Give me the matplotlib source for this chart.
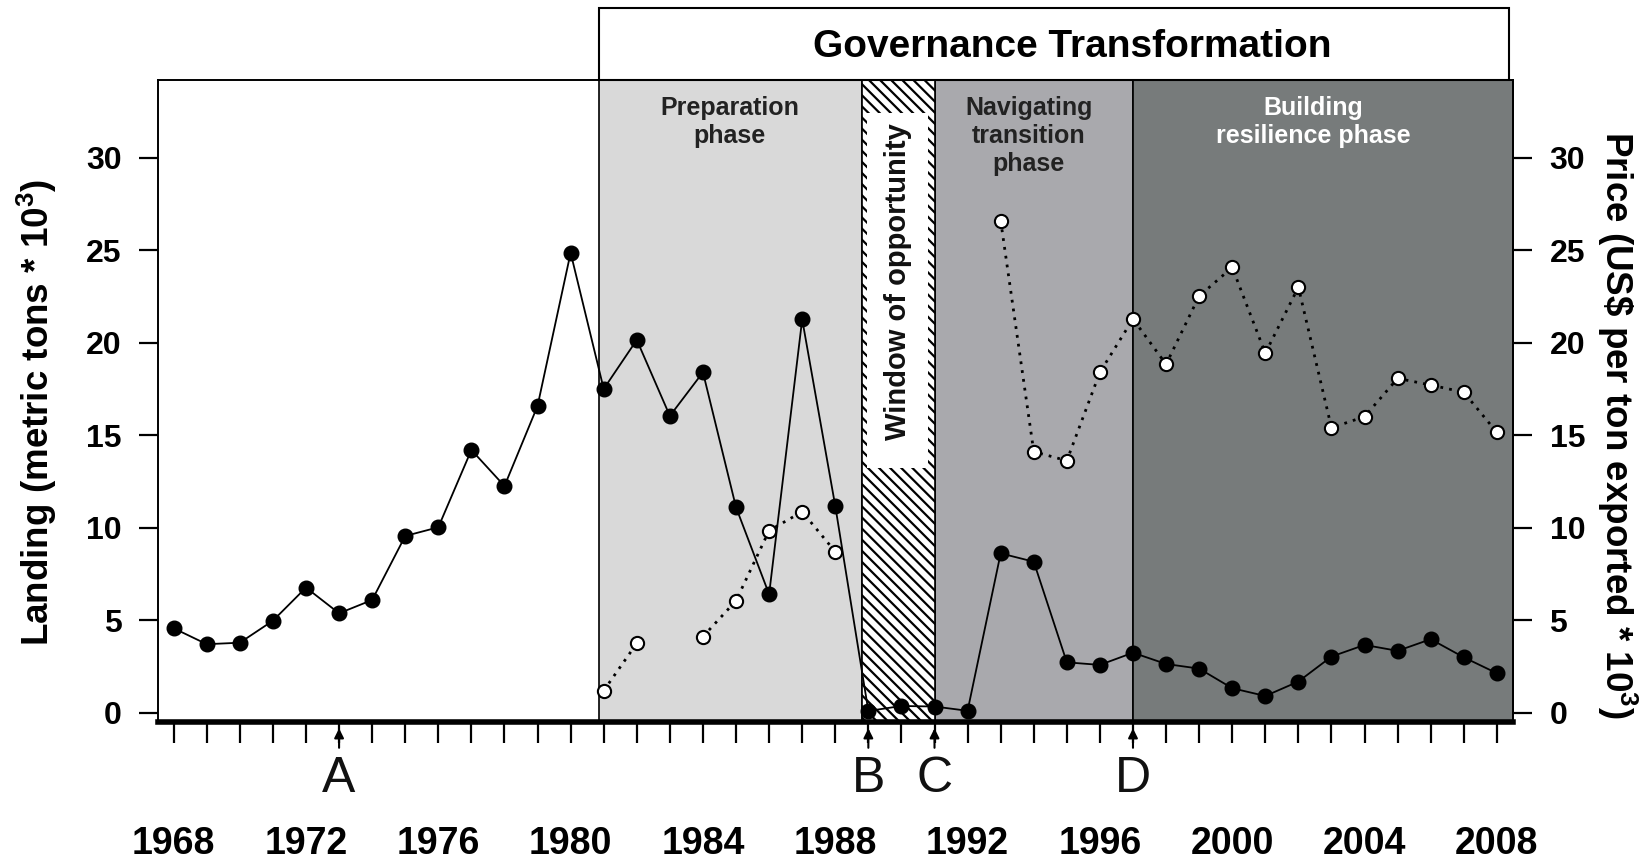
import matplotlib
matplotlib.use('Agg')
import matplotlib.pyplot as plt
import numpy as np
from matplotlib.patches import Rectangle
import matplotlib.transforms as mtransforms

plt.rcParams['font.family'] = ['Liberation Sans', 'DejaVu Sans']
plt.rcParams['font.weight'] = 'bold'
plt.rcParams['axes.labelweight'] = 'bold'
plt.rcParams['mathtext.default'] = 'regular'
plt.rcParams['hatch.linewidth'] = 1.6

# ---------------- data ----------------
years = list(range(1968, 2009))
landing = [4.56, 3.70, 3.78, 4.97, 6.76, 5.37, 6.09, 9.55, 10.02, 14.2, 12.25,
           16.58, 24.86, 17.5, 20.15, 16.04, 18.4, 11.1, 6.4, 21.26, 11.17,
           0.09, 0.36, 0.33, 0.1, 8.61, 8.16, 2.72, 2.58, 3.24, 2.63, 2.38,
           1.32, 0.90, 1.68, 3.03, 3.66, 3.34, 3.97, 2.99, 2.13]
price_years = list(range(1981, 2009))
price = [1.19, 3.75, None, 4.11, 6.05, 9.84, 10.86, 8.70, None, None, None, None,
         26.6, 14.11, 13.62, 18.4, 21.28, 18.83, 22.52, 24.07, 19.43, 23.0,
         15.4, 16.0, 18.07, 17.71, 17.32, 15.15]

year_labels = ['1968', '1972', '1976', '1980', '1984', '1988', '1992', '1996', '2000', '2004', '2008']
y_ticks = [0, 5, 10, 15, 20, 25, 30]

phase_names = ['Preparation\nphase', 'Navigating\ntransition\nphase', 'Building\nresilience phase']
phase_start = [1980.85, 1991.0, 1997.0]
phase_end = [1988.8, 1997.0, 2008.5]
phase_colors = ['#d9d9d9', '#a9a9ad', '#777b7b']
phase_text_x = [1984.8, 1993.85, 2002.45]
phase_text_colors = ['#222222', '#222222', 'white']

window_start, window_end = 1988.8, 1991.0
events = ['A', 'B', 'C', 'D']
event_years = [1973, 1989, 1991, 1997]

XMIN, XMAX = 1967.52, 2008.5
YMIN, YMAX = -0.49, 34.2

# ---------------- figure ----------------
fig = plt.figure(figsize=(16.46, 8.59), dpi=100)
ax = fig.add_axes([157.8/1646, 1-721.7/859, (1513.4-157.8)/1646, (721.7-80)/859])
ax.set_xlim(XMIN, XMAX)
ax.set_ylim(YMIN, YMAX)

trans = mtransforms.blended_transform_factory(ax.transData, ax.transAxes)

# phase backgrounds
for s, e, c in zip(phase_start, phase_end, phase_colors):
    ax.add_patch(Rectangle((s, 0), e - s, 1, transform=trans, facecolor=c,
                           edgecolor='black', lw=1.2, zorder=0))
# hatched window of opportunity
ax.add_patch(Rectangle((window_start, 0), window_end - window_start, 1, transform=trans,
                       facecolor='white', edgecolor='black', hatch='\\\\\\', lw=1.2, zorder=0.5))
ax.add_patch(Rectangle((1988.97, 13.2), 1.83, 19.2, facecolor='white', edgecolor='none', zorder=0.6))
ax.text(1989.89, 23.3, 'Window of opportunity', rotation=90, ha='center', va='center',
        fontsize=21, color='#111111', zorder=0.7)

for name, x, tc in zip(phase_names, phase_text_x, phase_text_colors):
    ax.text(x, 33.35, name, ha='center', va='top', fontsize=18, color=tc,
            linespacing=1.22, zorder=0.7)

# landing series
ax.plot(years, landing, color='black', lw=1.3, marker='o', markersize=10.5,
        markerfacecolor='black', markeredgecolor='black', zorder=3)

# axes styling
for side in ['left', 'top', 'right']:
    ax.spines[side].set_linewidth(1.4)
ax.spines['bottom'].set_linewidth(4)
ax.set_xticks(years)
ax.set_xticklabels([str(y) if str(y) in year_labels else '' for y in years])
ax.tick_params(axis='x', length=15, width=1.6, pad=60, labelsize=27, direction='out')
ax.set_yticks(y_ticks)
ax.tick_params(axis='y', length=14, width=1.6, pad=12, labelsize=23)
ax.set_ylabel('Landing (metric tons * 10$^3$)', fontsize=26.5, fontweight='bold', va='center')
ax.yaxis.set_label_coords(-0.0891, 0.4826)

# price series on secondary axis
ax2 = ax.twinx()
ax2.set_ylim(YMIN, YMAX)
ax2.plot(price_years, np.array(price, dtype=float), color='black', lw=2.0,
         linestyle=(0, (1, 2.2)), marker='o', markersize=9.5,
         markerfacecolor='white', markeredgecolor='black', markeredgewidth=1.5, zorder=3)
for side in ['left', 'top', 'bottom']:
    ax2.spines[side].set_visible(False)
ax2.spines['right'].set_linewidth(1.4)
ax2.set_yticks(y_ticks)
ax2.tick_params(axis='y', length=14, width=1.6, pad=12, labelsize=23)
ax2.set_ylabel('Price (US\\$ per ton exported * 10$^3$)', fontsize=26.5, fontweight='bold',
               rotation=270, va='center')
ax2.yaxis.set_label_coords(1.0764, 0.4624)

# governance transformation header
ax.add_patch(Rectangle((1980.85, 1.0), 2008.38 - 1980.85, 0.1122, transform=trans,
                       facecolor='white', edgecolor='black', lw=1.5, clip_on=False, zorder=5))
ax.text(1995.17, 1.051, 'Governance Transformation', transform=trans, ha='center', va='center',
        fontsize=28, zorder=6)

# event arrows and letters
for lab, yr in zip(events, event_years):
    ax.annotate('', xy=(yr, -0.006), xycoords=trans, xytext=(yr, -0.045), textcoords=trans,
                arrowprops=dict(arrowstyle='-|>', color='black', lw=1.5, mutation_scale=14),
                annotation_clip=False)
    ax.text(yr, -0.089, lab, transform=trans, ha='center', va='center', fontsize=36,
            fontweight='normal', color='#111111')

fig.savefig('out.png', dpi=100)
